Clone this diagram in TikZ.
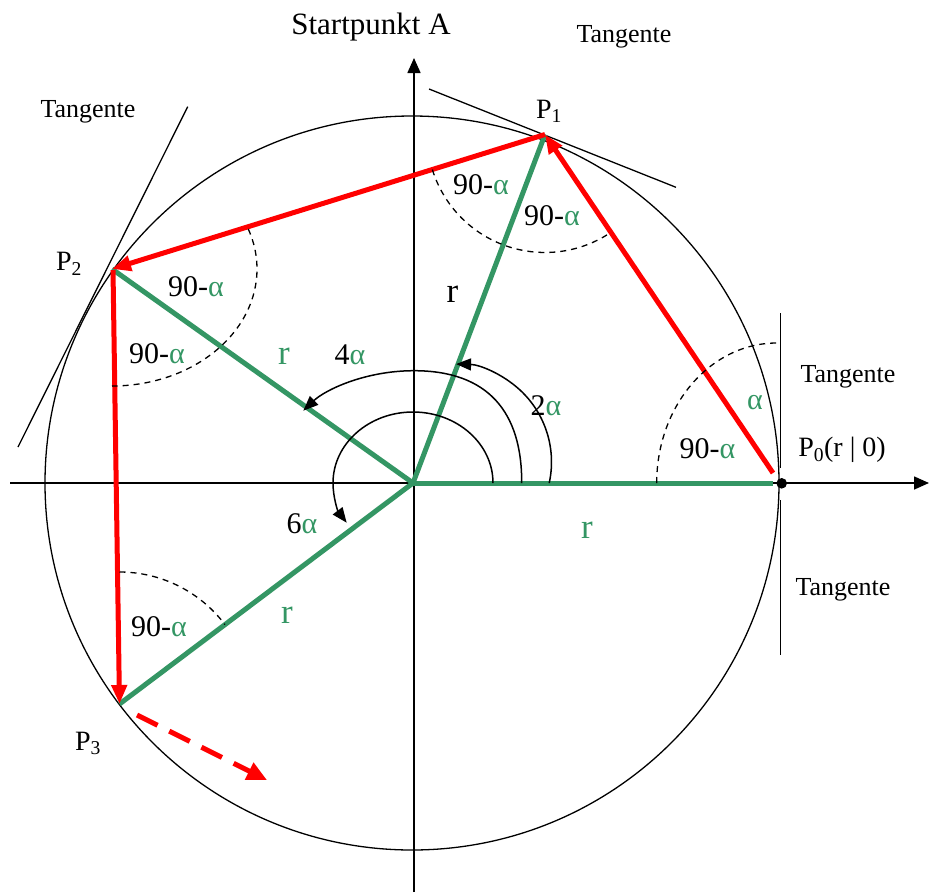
\documentclass[tikz,border=0pt]{standalone}
\usepackage{fontspec}
\setmainfont{Liberation Serif}
\usetikzlibrary{arrows.meta,calc}
\definecolor{grn}{RGB}{52,150,100}
\definecolor{rd}{RGB}{255,0,0}
\newcommand{\grnalpha}{\textcolor{grn}{α}}
\begin{document}
\begin{tikzpicture}[x=1pt,y=1pt,
  axisline/.style={line width=1.6, -{Triangle[length=15,width=13]}},
  thinline/.style={line width=1.3},
  grline/.style={grn, line width=5},
  redarrow/.style={rd, line width=5, -{Triangle[length=19,width=15]}},
  reddash/.style={rd, line width=5, dash pattern=on 23 off 13, -{Triangle[length=20,width=18]}},
  anglearc/.style={line width=1.3, dash pattern=on 6 off 5},
  turnarrow/.style={line width=1.5, -{Triangle[length=15,width=12]}},
  lbl/.style={font=\fontsize{30}{36}\selectfont, anchor=base, inner sep=0},
  tlbl/.style={font=\fontsize{26}{31}\selectfont, anchor=base, inner sep=0},
  plbl/.style={font=\fontsize{28}{34}\selectfont, anchor=base, inner sep=0},
  rlbl/.style={font=\fontsize{35}{42}\selectfont, anchor=base, inner sep=0},
]
\useasboundingbox (0,0) rectangle (929,-892);

% key points
\coordinate (O) at (413,-483);
\coordinate (P0) at (781.7,-483.3);
\coordinate (P0g) at (773,-483);
\coordinate (P0r) at (773,-473);
\coordinate (P1) at (545,-134.5);
\coordinate (P2) at (112,-269);
\coordinate (P2r) at (113,-270);
\coordinate (P3) at (119.5,-704);
\coordinate (D1) at (137,-715);
\coordinate (D2) at (267,-780);
\coordinate (XL) at (10,-483);
\coordinate (XR) at (929,-483);
\coordinate (YB) at (414,-892);
\coordinate (YT) at (414,-58);

% axes and circle
\draw[axisline] (XL) -- (XR);
\draw[axisline] (YB) -- (YT);
\draw[thinline] (412,-483) circle[radius=367];

% tangents
\coordinate (T1a) at (429,-89);
\coordinate (T1b) at (676,-187.3);
\coordinate (T2a) at (187.7,-106.7);
\coordinate (T2b) at (18,-447);
\coordinate (T0a) at (780.5,-313);
\coordinate (T0b) at (780.5,-468);
\coordinate (T0c) at (780.5,-500);
\coordinate (T0d) at (780.5,-655);
\draw[thinline] (T1a) -- (T1b);
\draw[thinline] (T2a) -- (T2b);
\draw[thinline] (T0a) -- (T0b);
\draw[thinline] (T0c) -- (T0d);

% green radii
\draw[grline] (O) -- (P0g);
\draw[grline] (O) -- (P1);
\draw[grline] (O) -- (P2);
\draw[grline] (O) -- (P3);

% red chords
\draw[redarrow] (P0r) -- (P1);
\draw[redarrow] (P1) -- (P2);
\draw[redarrow] (P2r) -- (P3);
\draw[reddash] (D1) -- (D2);

% point P0
\fill (P0) circle[radius=5.3];

% dashed angle arcs
\draw[anglearc] ($(P1)+(197.3:118)$) arc[start angle=197.3, end angle=302.5, radius=118];
\draw[anglearc] ($(P2)+({145*cos(20)},{117*sin(20)})$) arc[start angle=20, end angle=-90, x radius=145, y radius=117];
\draw[anglearc] (656.7,-483) arc[start angle=180, end angle=90, x radius=120, y radius=140];
\draw[anglearc] ($(P3)+(0,132)$) arc[start angle=90, end angle=37, radius=132];

% turning arcs at the centre
\coordinate (C2) at (453.5,-462);
\draw[turnarrow] ($(C2)+(-12.4:98)$) arc[start angle=-12.4, end angle=88.5, radius=98];
\draw[turnarrow] (521.7,-483) .. controls (522,-412) and (488,-370.7) .. (414,-370.7)
  .. controls (365,-370.7) and (325,-390) .. (303.3,-410.7);
\draw[turnarrow] ($(O)+(80,0)$) arc[start angle=0, end angle=214, x radius=80, y radius=71];

% labels
\node[font=\fontsize{31}{37}\selectfont, anchor=base, inner sep=0] (start) at (371,-34.5) {Startpunkt A};
\node[tlbl] (tg1) at (624,-42.7) {Tangente};
\node[tlbl] (tg2) at (88,-117) {Tangente};
\node[tlbl] (tg3) at (848,-382.3) {Tangente};
\node[tlbl] (tg4) at (843,-595) {Tangente};

\node[plbl] (lp1) at (549,-118.3) {P\textsubscript{1}};
\node[plbl] (lp2) at (69,-270.7) {P\textsubscript{2}};
\node[plbl] (lp3) at (88,-750) {P\textsubscript{3}};
\node[plbl] (lp0) at (842,-456.7) {P\textsubscript{0}(r | 0)};

\node[lbl] (a1) at (481,-194.3) {90-\grnalpha};
\node[lbl] (a2) at (552,-225) {90-\grnalpha};
\node[lbl] (a3) at (196,-296.7) {90-\grnalpha};
\node[lbl] (a4) at (157,-363.3) {90-\grnalpha};
\node[lbl] (a5) at (707.5,-458.3) {90-\grnalpha};
\node[lbl] (a6) at (159,-636.7) {90-\grnalpha};
\node[lbl] (a7) at (755,-409) {\grnalpha};

\node[lbl] (t2) at (546,-415) {2\grnalpha};
\node[lbl] (t4) at (350,-364) {4\grnalpha};
\node[lbl] (t6) at (302,-533) {6\grnalpha};

\node[rlbl] (r1) at (452.5,-302) {r};
\node[rlbl, text=grn] (r2) at (284,-364.5) {r};
\node[rlbl, text=grn] (r3) at (587,-538) {r};
\node[rlbl, text=grn] (r4) at (287,-623) {r};
\end{tikzpicture}
\end{document}
